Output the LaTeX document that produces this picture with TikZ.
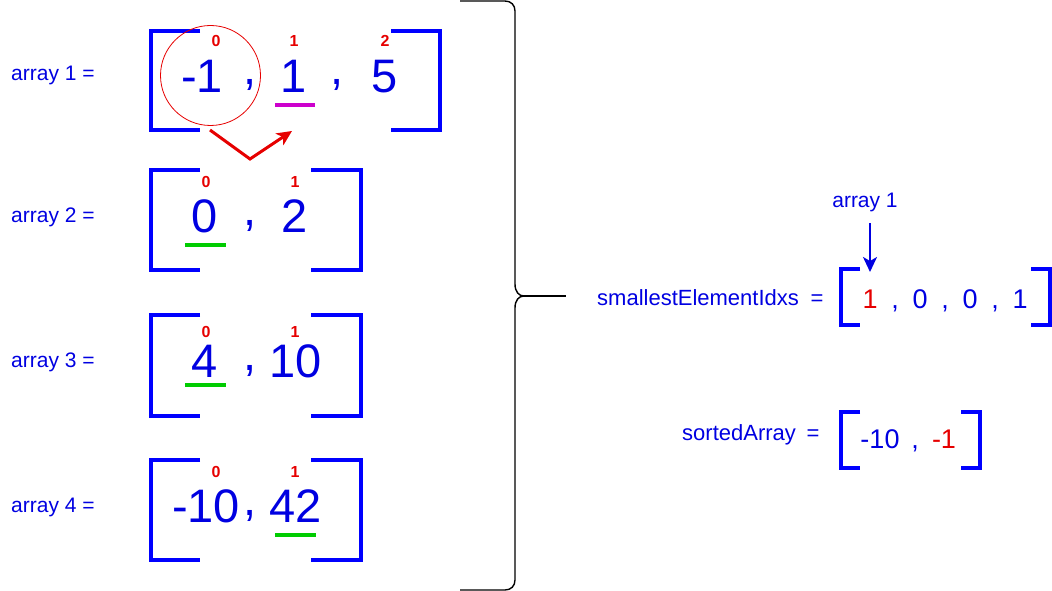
\documentclass[tikz,border=0pt]{standalone}
\usepackage{fontspec}
\setmainfont{Liberation Sans}
\usetikzlibrary{arrows.meta}
\definecolor{bblue}{RGB}{0,0,255}
\definecolor{tblue}{RGB}{0,0,225}
\definecolor{ired}{RGB}{230,0,0}
\definecolor{ugreen}{RGB}{0,204,0}
\definecolor{umag}{RGB}{204,0,204}
\tikzset{
  lbl/.style={inner sep=0pt, anchor=base west, text=tblue, font=\fontsize{21}{21}\selectfont},
  big/.style={inner sep=0pt, anchor=base, text=tblue, font=\fontsize{47}{47}\selectfont},
  idx/.style={inner sep=0pt, anchor=base, text=ired, font=\fontsize{16}{16}\selectfont\bfseries},
  med/.style={inner sep=0pt, anchor=base, text=tblue, font=\fontsize{27}{27}\selectfont},
  brk/.style={draw=bblue, line width=4pt, line cap=butt, line join=miter},
  ul/.style={line width=3.5pt},
  brace/.style={draw=black, line width=1.4pt},
  tipstyle/.style={-{Stealth[length=15pt,width=14pt,inset=4pt]}},
}
\begin{document}
\begin{tikzpicture}[x=1pt,y=-1pt]
\useasboundingbox (0,0) rectangle (1052,591);

% ---------- left labels ----------
\node[lbl] (l1) at (11,81) {array 1 =};
\node[lbl] (l2) at (11,222) {array 2 =};
\node[lbl] (l3) at (11,367) {array 3 =};
\node[lbl] (l4) at (11,512) {array 4 =};

% ---------- array 1 ----------
\draw[brk] (200,31) -- (151,31) -- (151,130) -- (200,130);
\draw[brk] (391,31) -- (440,31) -- (440,130) -- (391,130);
\node[big] (a1v0) at (202,93) {-1};
\node[big] (a1c0) at (250,85) {,};
\node[big] (a1v1) at (294,93) {1};
\node[big] (a1c1) at (337,85) {,};
\node[big] (a1v2) at (385,93) {5};
\node[idx] (a1i0) at (216,47) {0};
\node[idx] (a1i1) at (294,47) {1};
\node[idx] (a1i2) at (385,47) {2};
\draw[umag,ul] (275,105) -- (315,105);
\node[draw=ired, line width=0.8pt, circle, minimum size=100pt, inner sep=0pt] (circ) at (210.5,75.5) {};
\coordinate (ra) at (210,130);
\coordinate (rb) at (250,159);
\coordinate (rc) at (292,131);
\draw[ired, line width=3pt, line join=miter, tipstyle] (ra) -- (rb) -- (rc);

% ---------- array 2 ----------
\draw[brk] (200,170) -- (151,170) -- (151,270) -- (200,270);
\draw[brk] (311,170) -- (361,170) -- (361,270) -- (311,270);
\node[big] (a2v0) at (205,232) {0};
\node[big] (a2c0) at (250,225) {,};
\node[big] (a2v1) at (295,232) {2};
\node[idx] (a2i0) at (206,187) {0};
\node[idx] (a2i1) at (295,187) {1};
\draw[ugreen,ul] (185,245) -- (226,245);

% ---------- array 3 ----------
\draw[brk] (200,315) -- (151,315) -- (151,416) -- (200,416);
\draw[brk] (311,315) -- (361,315) -- (361,416) -- (311,416);
\node[big] (a3v0) at (205,377) {4};
\node[big] (a3c0) at (250,370) {,};
\node[big] (a3v1) at (296,377) {10};
\node[idx] (a3i0) at (206,337) {0};
\node[idx] (a3i1) at (295,337) {1};
\draw[ugreen,ul] (185,385) -- (226,385);

% ---------- array 4 ----------
\draw[brk] (200,460) -- (151,460) -- (151,560) -- (200,560);
\draw[brk] (311,460) -- (361,460) -- (361,560) -- (311,560);
\node[big] (a4v0) at (206,522) {-10};
\node[big] (a4c0) at (250,515) {,};
\node[big] (a4v1) at (295.5,522) {42};
\node[idx] (a4i0) at (216,477) {0};
\node[idx] (a4i1) at (295,477) {1};
\draw[ugreen,ul] (275,535) -- (316,535);

% ---------- brace ----------
\coordinate (bt) at (460,1);
\coordinate (bb) at (460,590);
\coordinate (btip) at (524,296);
\coordinate (bend) at (566,296);
\draw[brace] (bt) -- (505,1) .. controls (511,1) and (515,5) .. (515,11) -- (515,284)
  .. controls (515,292) and (519,296) .. (btip)
  .. controls (519,296) and (515,300) .. (515,308)
  -- (515,580) .. controls (515,586) and (511,590) .. (505,590) -- (bb);
\draw[brace] (btip) -- (bend);

% ---------- smallestElementIdxs ----------
\node[lbl, font=\fontsize{22}{22}\selectfont] (sel) at (597,305) {smallestElementIdxs};
\node[lbl, anchor=base, font=\fontsize{22}{22}\selectfont] (seq) at (817,305) {=};
\draw[brk] (860,269) -- (841,269) -- (841,325) -- (860,325);
\draw[brk] (1031,269) -- (1050,269) -- (1050,325) -- (1031,325);
\node[med, text=ired] (s0) at (870,308) {1};
\node[med] (sc0) at (895,308) {,};
\node[med] (s1) at (920,308) {0};
\node[med] (sc1) at (945,308) {,};
\node[med] (s2) at (970,308) {0};
\node[med] (sc2) at (995,308) {,};
\node[med] (s3) at (1020,308) {1};
\node[lbl, anchor=base, font=\fontsize{21}{21}\selectfont] (al) at (865,207) {array 1};
\coordinate (atip) at (870,272);
\draw[tblue, line width=2pt, tipstyle] (870,223) -- (atip);

% ---------- sortedArray ----------
\node[lbl, font=\fontsize{22}{22}\selectfont] (sa) at (682,440) {sortedArray};
\node[lbl, anchor=base, font=\fontsize{22}{22}\selectfont] (saeq) at (813,440) {=};
\draw[brk] (860,412) -- (841,412) -- (841,468) -- (860,468);
\draw[brk] (961,412) -- (980,412) -- (980,468) -- (961,468);
\node[med] (t0) at (880,448) {-10};
\node[med] (tc0) at (915,448) {,};
\node[med, text=ired] (t1) at (944,448) {-1};
\end{tikzpicture}
\end{document}
